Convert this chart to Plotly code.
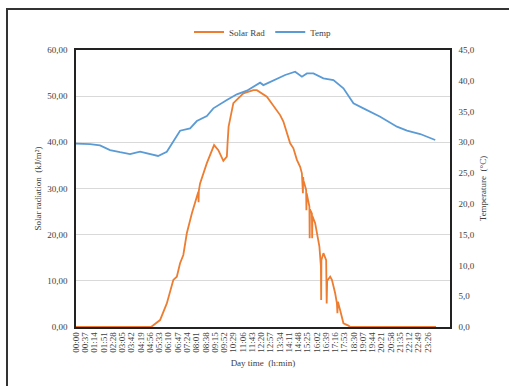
import plotly.graph_objects as go

# ---- data (minutes after midnight) ----
rad_minutes = [0, 300, 336, 363, 389, 403, 416, 429, 443, 463, 483, 489, 490, 491, 496, 523, 552, 569, 589,
               603, 606, 610, 629, 669, 709, 723, 763, 803, 816, 829, 843, 856, 869, 883, 896, 903, 907, 908,
               909, 920, 921, 922, 933, 934, 935, 943, 944, 945, 956, 963, 973, 979, 980, 981, 989, 1000,
               1002, 1004, 1016, 1023, 1036, 1043, 1045, 1047, 1059, 1069, 1089, 1096, 1439]
rad_values = [0, 0, 1.5, 5.1, 10.2, 10.9, 13.8, 15.6, 20.3, 24.6, 28.2, 29.3, 27.0, 29.5, 31.1, 35.5, 39.4,
              38.3, 36.0, 36.9, 40.0, 43.4, 48.5, 50.6, 51.3, 51.3, 49.9, 47.0, 45.9, 44.5, 42.0, 39.8, 38.7,
              36.2, 34.7, 33.3, 29.0, 32.5, 31.8, 29.7, 25.3, 29.0, 26.1, 19.2, 25.5, 24.6, 19.2, 24.0, 22.5,
              20.3, 17.4, 13.1, 5.85, 14.5, 16.0, 14.5, 5.1, 10.0, 10.9, 10.2, 7.3, 5.1, 3.0, 5.5, 3.0, 0.8,
              0.3, 0, 0]

temp_minutes = [0, 56, 96, 136, 176, 216, 256, 296, 328, 363, 388, 416, 456, 483, 523, 549, 603, 643, 683,
                736, 749, 789, 836, 876, 903, 923, 949, 989, 1029, 1069, 1109, 1149, 1216, 1283, 1323,
                1376, 1436]
temp_values = [29.8, 29.7, 29.5, 28.75, 28.4, 28.1, 28.48, 28.1, 27.78, 28.48, 30.0, 31.89, 32.27, 33.46,
               34.28, 35.52, 36.88, 37.8, 38.39, 39.69, 39.3, 40.0, 40.94, 41.47, 40.66, 41.2, 41.2, 40.4,
               40.1, 38.78, 36.34, 35.52, 34.16, 32.54, 31.89, 31.35, 30.38]

x_tick_minutes = [i * 37 for i in range(39)]
x_tick_labels = ["%02d:%02d" % (m // 60, m % 60) for m in x_tick_minutes]

left_ticks = [0, 10, 20, 30, 40, 50, 60]
left_labels = ["0,00", "10,00", "20,00", "30,00", "40,00", "50,00", "60,00"]
right_ticks = [0, 5, 10, 15, 20, 25, 30, 35, 40, 45]
right_labels = ["0,0", "5,0", "10,0", "15,0", "20,0", "25,0", "30,0", "35,0", "40,0", "45,0"]

FONT = "Liberation Serif, Times New Roman, serif"
TXT = "#404040"

fig = go.Figure()
fig.add_trace(go.Scatter(x=rad_minutes, y=rad_values, name="Solar Rad", mode="lines",
                         line=dict(color="#ED7D31", width=1.8), yaxis="y"))
fig.add_trace(go.Scatter(x=temp_minutes, y=temp_values, name="Temp", mode="lines",
                         line=dict(color="#5B9BD5", width=1.8), yaxis="y2"))

fig.update_layout(
    width=509, height=386,
    margin=dict(l=76, r=59, t=50, b=59),
    paper_bgcolor="white", plot_bgcolor="white",
    font=dict(family=FONT, size=9, color=TXT),
    showlegend=True,
    legend=dict(orientation="h", x=0.5, xanchor="center", y=1.065, yanchor="middle",
                font=dict(family=FONT, size=9, color=TXT), itemwidth=30,
                bgcolor="rgba(0,0,0,0)"),
    xaxis=dict(range=[0, 1495], tickmode="array", tickvals=x_tick_minutes, ticktext=x_tick_labels,
               tickangle=-90, tickfont=dict(family=FONT, size=9, color=TXT),
               showgrid=False, zeroline=False, showline=True, linecolor="#222222", linewidth=1.5,
               mirror=True, ticks="",
               title=dict(text="Day time  (h:min)", font=dict(family=FONT, size=9, color=TXT), standoff=8)),
    yaxis=dict(range=[0, 60], tickmode="array", tickvals=left_ticks, ticktext=left_labels,
               tickfont=dict(family=FONT, size=9, color=TXT), showgrid=True, gridcolor="#d9d9d9",
               gridwidth=1, zeroline=False, showline=True, linecolor="#222222", linewidth=1.5,
               ticks="", ticklabelstandoff=5,
               title=dict(text="Solar radiation  (kJ/m²)",
                          font=dict(family=FONT, size=9, color=TXT), standoff=4)),
    yaxis2=dict(range=[0, 45], overlaying="y", side="right", tickmode="array", tickvals=right_ticks,
                ticktext=right_labels, tickfont=dict(family=FONT, size=9, color=TXT), showgrid=False,
                zeroline=False, showline=True, linecolor="#222222", linewidth=1.5, ticks="",
                ticklabelstandoff=5,
                title=dict(text="Temperature  (°C)", font=dict(family=FONT, size=9, color=TXT), standoff=6)),
    shapes=[dict(type="rect", xref="paper", yref="paper", x0=-0.1845, x1=1.2, y0=-0.26, y1=1.148,
                 line=dict(color="#333333", width=2), fillcolor="rgba(0,0,0,0)", layer="above")],
)

fig.write_html("out.html")
